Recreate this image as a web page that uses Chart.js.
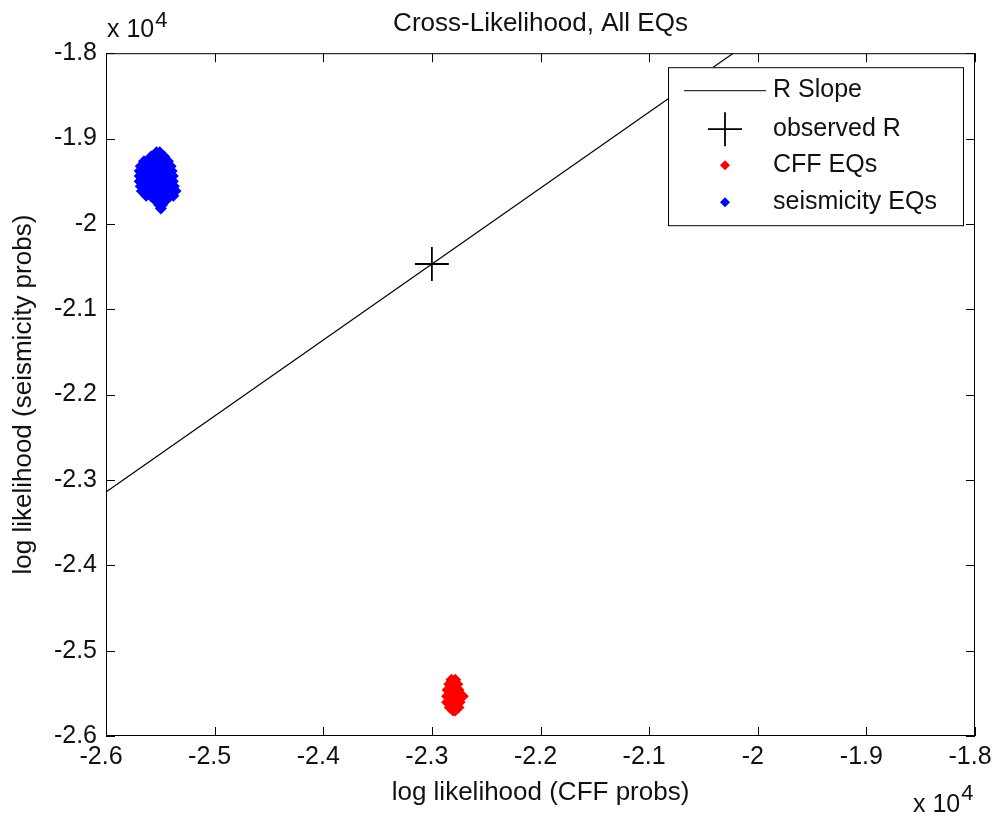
<!DOCTYPE html>
<html>
<head>
<title>Cross-Likelihood, All EQs</title>
<script src="https://cdn.jsdelivr.net/npm/chart.js"></script>
<style>
  body { margin: 0; background: #fff; }
  canvas { display: block; }
</style>
</head>
<body>
<canvas id="cl" width="995" height="820"></canvas>
<script>
// axis range (raw values, labels shown in units of 10^4)
const axisMin = -26000;
const axisMax = -18000;
const axisStep = 1000;

// R slope line (clipped by the plot box)
const slopeX = [-26000, -20000];
const slopeY = [-23140, -17800];

// observed R
const observedX = [-23000];
const observedY = [-20470];

// CFF EQs cluster
const cffX = [
  -22820, -22785,
  -22840, -22800, -22765,
  -22855, -22815, -22770, -22755,
  -22860, -22825, -22780, -22740, -22715,
  -22860, -22825, -22780, -22745,
  -22835, -22795, -22755,
  -22805, -22785
];
const cffY = [
  -25340, -25340,
  -25395, -25395, -25395,
  -25460, -25460, -25460, -25460,
  -25535, -25535, -25535, -25535, -25535,
  -25605, -25605, -25605, -25605,
  -25665, -25665, -25665,
  -25700, -25700
];

// seismicity EQs cluster
const seisX = [
  -25535, -25505,
  -25585, -25545, -25505, -25465,
  -25650, -25605, -25560, -25510, -25465, -25430,
  -25680, -25635, -25590, -25540, -25490, -25445, -25405,
  -25690, -25645, -25600, -25550, -25500, -25455, -25420, -25395,
  -25690, -25645, -25600, -25550, -25500, -25455, -25420, -25385,
  -25690, -25645, -25600, -25550, -25500, -25455, -25420, -25385,
  -25680, -25635, -25590, -25540, -25490, -25445, -25410, -25375,
  -25670, -25625, -25580, -25530, -25480, -25435, -25400, -25360,
  -25630, -25590, -25540, -25490, -25445, -25410, -25380,
  -25545, -25500, -25450,
  -25510, -25485,
  -25495
];
const seisY = [
  -19160, -19160,
  -19210, -19210, -19210, -19210,
  -19265, -19265, -19265, -19265, -19265, -19265,
  -19325, -19325, -19325, -19325, -19325, -19325, -19325,
  -19380, -19380, -19380, -19380, -19380, -19380, -19380, -19380,
  -19440, -19440, -19440, -19440, -19440, -19440, -19440, -19440,
  -19500, -19500, -19500, -19500, -19500, -19500, -19500, -19500,
  -19560, -19560, -19560, -19560, -19560, -19560, -19560, -19560,
  -19615, -19615, -19615, -19615, -19615, -19615, -19615, -19615,
  -19670, -19670, -19670, -19670, -19670, -19670, -19670,
  -19725, -19725, -19725,
  -19780, -19780,
  -19820
];

const toPoints = (xs, ys) => xs.map((v, i) => ({ x: v, y: ys[i] }));

const FONT = "'Liberation Sans', Arial, Helvetica, sans-serif";
const INK = '#111';

// box, inward ticks on all sides, exponent labels, legend
const frame = {
  id: 'frame',
  afterDatasetsDraw(chart) {
    const { ctx, chartArea: a, scales: { x, y } } = chart;
    const tl = 9;
    ctx.save();
    ctx.strokeStyle = '#000';
    ctx.lineWidth = 1;
    ctx.beginPath();
    x.ticks.forEach(t => {
      const px = Math.round(x.getPixelForValue(t.value)) + 0.5;
      ctx.moveTo(px, a.bottom); ctx.lineTo(px, a.bottom - tl);
      ctx.moveTo(px, a.top); ctx.lineTo(px, a.top + tl);
    });
    y.ticks.forEach(t => {
      const py = Math.round(y.getPixelForValue(t.value)) + 0.5;
      ctx.moveTo(a.left, py); ctx.lineTo(a.left + tl, py);
      ctx.moveTo(a.right, py); ctx.lineTo(a.right - tl, py);
    });
    ctx.stroke();
    ctx.strokeRect(a.left + 0.5, a.top + 0.5, a.right - a.left - 1, a.bottom - a.top - 1);

    // x 10^4 exponent labels
    ctx.fillStyle = INK;
    ctx.textBaseline = 'middle';
    ctx.textAlign = 'left';
    ctx.font = '25px ' + FONT;
    const w = ctx.measureText('x 10').width;
    ctx.fillText('x 10', a.left + 1, 30);
    ctx.fillText('x 10', a.right - 62, 805);
    ctx.font = '22px ' + FONT;
    ctx.fillText('4', a.left + 1 + w + 1, 21);
    ctx.fillText('4', a.right - 62 + w + 1, 794);

    // legend
    const lx = a.right - 307, ly = a.top + 14, lw = 295, lh = 158;
    ctx.fillStyle = '#fff';
    ctx.fillRect(lx, ly, lw, lh);
    ctx.strokeRect(lx + 0.5, ly + 0.5, lw, lh);
    const rows = [ly + 23, ly + 62, ly + 98, ly + 135];
    const mx = lx + 57;
    chart.data.datasets.forEach((ds, i) => {
      const ry = rows[i];
      ctx.strokeStyle = '#000';
      ctx.fillStyle = ds.backgroundColor;
      if (ds.showLine) {
        ctx.lineWidth = 1;
        ctx.beginPath();
        ctx.moveTo(lx + 16, ry + 0.5); ctx.lineTo(lx + 98, ry + 0.5);
        ctx.stroke();
      } else {
        const r = ds.pointStyle === 'rectRot' ? 5 : ds.pointRadius;
        ctx.lineWidth = ds.borderWidth || 1;
        Chart.helpers.drawPoint(ctx, {
          pointStyle: ds.pointStyle, radius: r, rotation: 0,
          borderWidth: ds.borderWidth
        }, mx, ry);
      }
      ctx.fillStyle = INK;
      ctx.font = '25px ' + FONT;
      ctx.textAlign = 'left';
      ctx.textBaseline = 'middle';
      ctx.fillText(ds.label, lx + 105, ry);
    });
    ctx.restore();
  }
};

new Chart(document.getElementById('cl'), {
  type: 'scatter',
  data: {
    datasets: [
      {
        label: 'R Slope',
        data: toPoints(slopeX, slopeY),
        showLine: true,
        borderColor: '#000',
        backgroundColor: '#000',
        borderWidth: 1.2,
        pointRadius: 0
      },
      {
        label: 'observed R',
        data: toPoints(observedX, observedY),
        pointStyle: 'cross',
        pointRadius: 17,
        borderColor: '#000',
        backgroundColor: '#000',
        borderWidth: 1.8
      },
      {
        label: 'CFF EQs',
        data: toPoints(cffX, cffY),
        pointStyle: 'rectRot',
        pointRadius: 6,
        borderWidth: 0,
        borderColor: '#ff0000',
        backgroundColor: '#ff0000'
      },
      {
        label: 'seismicity EQs',
        data: toPoints(seisX, seisY),
        pointStyle: 'rectRot',
        pointRadius: 6,
        borderWidth: 0,
        borderColor: '#0000ff',
        backgroundColor: '#0000ff'
      }
    ]
  },
  options: {
    responsive: false,
    animation: false,
    events: [],
    layout: { padding: { left: 0, right: 20, top: 0, bottom: 0 } },
    plugins: {
      legend: { display: false },
      tooltip: { enabled: false },
      title: {
        display: true,
        fullSize: false,
        text: 'Cross-Likelihood, All EQs',
        color: INK,
        font: { family: FONT, size: 26, weight: 'normal' },
        padding: { top: 8, bottom: 14 }
      }
    },
    scales: {
      x: {
        type: 'linear',
        min: axisMin,
        max: axisMax,
        grid: { display: false, drawTicks: false },
        border: { display: false },
        ticks: {
          stepSize: axisStep,
          padding: 6,
          labelOffset: -5,
          color: INK,
          font: { family: FONT, size: 25 },
          maxRotation: 0,
          autoSkip: false,
          callback: v => String(parseFloat((v / 1e4).toFixed(1)))
        },
        title: {
          display: true,
          text: 'log likelihood (CFF probs)',
          color: INK,
          font: { family: FONT, size: 26 },
          padding: { top: 0, bottom: 12 }
        },
        afterFit(s) { s.height = 84; s.paddingLeft = 0; s.paddingRight = 0; }
      },
      y: {
        type: 'linear',
        min: axisMin,
        max: axisMax,
        grid: { display: false, drawTicks: false },
        border: { display: false },
        ticks: {
          stepSize: axisStep,
          padding: 9,
          color: INK,
          font: { family: FONT, size: 25 },
          autoSkip: false,
          callback: v => String(parseFloat((v / 1e4).toFixed(1)))
        },
        title: {
          display: true,
          text: 'log likelihood (seismicity probs)',
          color: INK,
          font: { family: FONT, size: 26 },
          padding: { top: 8, bottom: 0 }
        },
        afterFit(s) { s.width = 106; s.paddingTop = 0; s.paddingBottom = 0; }
      }
    }
  },
  plugins: [frame]
});
</script>
</body>
</html>
